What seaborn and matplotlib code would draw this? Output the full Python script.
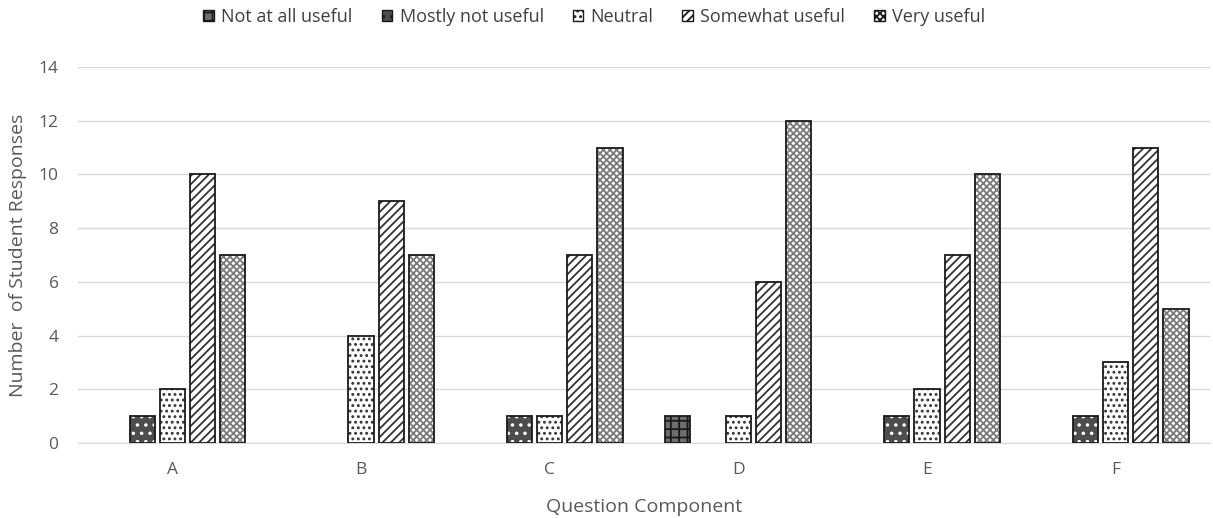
import matplotlib.pyplot as plt
import pandas as pd
import seaborn as sns
from matplotlib.patches import Rectangle

sns.set_style("white")
plt.rcParams['font.family'] = ['Open Sans', 'DejaVu Sans']
plt.rcParams['hatch.linewidth'] = 1.3

components = ['A', 'B', 'C', 'D', 'E', 'F']
levels = ['Not at all useful', 'Mostly not useful', 'Neutral',
          'Somewhat useful', 'Very useful']
not_at_all = [0, 0, 0, 1, 0, 0]
mostly_not = [1, 0, 1, 0, 1, 1]
neutral = [2, 4, 1, 1, 2, 3]
somewhat = [10, 9, 7, 6, 7, 11]
very = [7, 7, 11, 12, 10, 5]

rows = []
for lvl, vals in zip(levels, [not_at_all, mostly_not, neutral, somewhat, very]):
    for c, v in zip(components, vals):
        rows.append({'comp': c, 'level': lvl, 'n': v})
df = pd.DataFrame(rows)

# face, hatch, hatch colour per level
styles = {
    'Not at all useful': ('#6e6e6e', '++', '#1a1a1a'),
    'Mostly not useful': ('#4d4d4d', '..', '#ffffff'),
    'Neutral': ('#ffffff', '...', '#333333'),
    'Somewhat useful': ('#ffffff', '////', '#333333'),
    'Very useful': ('#ffffff', 'xxxxx', '#7a7a7a'),
}

fig, ax = plt.subplots(figsize=(12.13, 5.18), dpi=100)
sns.barplot(data=df, x='comp', y='n', hue='level', hue_order=levels,
            width=0.8, gap=0.17, ax=ax, legend=False)

for cont, lvl in zip(ax.containers, levels):
    face, hatch, hc = styles[lvl]
    for p in cont.patches:
        p.set_facecolor(face)
        p.set_hatch(hatch)
        p.set_edgecolor(hc)
        p.set_linewidth(0)
        if p.get_height() > 0:
            ax.add_patch(Rectangle(p.get_xy(), p.get_width(), p.get_height(),
                                   fill=False, edgecolor='#1a1a1a', lw=1.3, zorder=3))

handles = []
for lvl in levels:
    face, hatch, hc = styles[lvl]
    h = Rectangle((0, 0), 1, 1, facecolor=face, hatch=hatch, edgecolor='#1a1a1a', lw=1)
    handles.append(h)
fig.legend(handles, levels, loc='center', bbox_to_anchor=(0.49, 0.967), ncol=5,
           frameon=False, fontsize=13, handlelength=0.6, handleheight=0.6,
           handletextpad=0.4, columnspacing=1.6, labelcolor='#404040')

ax.set_ylim(0, 14)
ax.set_yticks(range(0, 15, 2))
ax.yaxis.grid(True, color='#d9d9d9', lw=1)
ax.set_axisbelow(True)
for s in ['top', 'right', 'left']:
    ax.spines[s].set_visible(False)
ax.spines['bottom'].set_color('#d9d9d9')
ax.tick_params(axis='both', length=0, labelsize=12.5, colors='#595959')
ax.tick_params(axis='x', pad=14)
ax.tick_params(axis='y', pad=14)
ax.set_xlabel('Question Component', fontsize=14, color='#595959', labelpad=14)
ax.set_ylabel('Number  of Student Responses', fontsize=14, color='#595959', labelpad=8)

plt.subplots_adjust(left=0.0643, right=0.9975, top=0.8707, bottom=0.1448)
plt.savefig('out.png', dpi=100)
